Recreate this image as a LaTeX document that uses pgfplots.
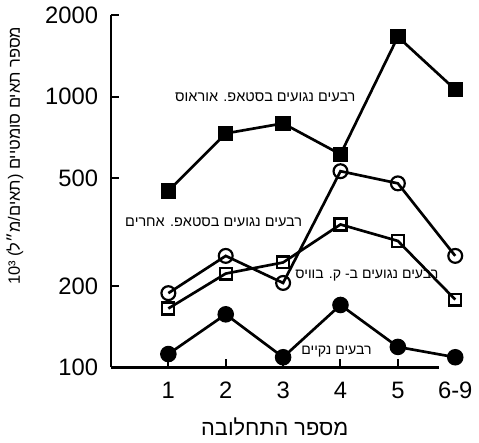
\documentclass[border=0pt]{standalone}
\usepackage{pgfplots}
\pgfplotsset{compat=1.18}
\usepackage{fontspec}
\setmainfont{Liberation Sans}
\newfontfamily\heb[Script=Hebrew]{Liberation Sans}
\TeXXeTstate=1
\begin{document}
\begin{tikzpicture}
\begin{axis}[
  scale only axis,
  width=165.5pt, height=178pt,
  ymode=log,
  xmin=0, xmax=5.71,
  ymin=100, ymax=2000,
  clip=false,
  axis lines=left,
  axis line style={line width=1.4pt, -},
  xtick={1,2,3,4,5},
  xticklabels={1,2,3,4,5},
  ytick={100,200,500,1000,2000},
  yticklabels={100,200,500,1000,2000},
  minor ytick={},
  tick align=inside,
  major tick length=4pt,
  tick style={line width=1pt, black},
  ticklabel style={font=\fontsize{12}{14}\selectfont},
  yticklabel style={xshift=-3pt},
  xticklabel style={yshift=-4pt},
  xlabel={\heb\fontsize{11}{13}\selectfont\beginR מספר התחלובה\endR},
  xlabel style={at={(axis description cs:0.50,0)}, anchor=north, yshift=-22pt},
  ylabel={\heb\fontsize{8.3}{10}\selectfont\beginR מספר תאים סומטיים (תאים/מ״ל) \beginL10³\endL\endR},
  ylabel style={at={(axis description cs:-0.293,0.60)}, anchor=center, rotate=0},
  every axis plot/.append style={line width=1.35pt, black},
]
% Staph. aureus
\addplot[mark=square*, mark size=3.2pt, mark options={fill=black}] coordinates {
 (1,448) (2,731) (3,796) (4,612) (5,1662) (6,1061)};
% other staph
\addplot[mark=o, mark size=3.5pt, mark options={fill=white, line width=1.1pt}] coordinates {
 (1,188) (2,258) (3,205) (4,530) (5,478) (6,258)};
% C. bovis
\addplot[mark=square, mark size=3pt, mark options={fill=white, line width=1.1pt}] coordinates {
 (1,165) (2,222) (3,244) (4,337) (5,293) (6,178)};
% clean
\addplot[mark=*, mark size=3.5pt, mark options={fill=black}] coordinates {
 (1,112) (2,157) (3,109) (4,170) (5,119) (6,109)};

\node[font=\heb\fontsize{7.3}{9}\selectfont] at (axis cs:2.69,991) {\beginR רבעים נגועים בסטאפ. אוראוס\endR};
\node[font=\heb\fontsize{7.3}{9}\selectfont] at (axis cs:1.79,344) {\beginR רבעים נגועים בסטאפ. אחרים\endR};
\node[font=\heb\fontsize{7.1}{9}\selectfont] at (axis cs:4.46,219) {\beginR רבעים נגועים ב- ק. בוויס\endR};
\node[font=\heb\fontsize{7.1}{9}\selectfont] at (axis cs:3.93,114) {\beginR רבעים נקיים\endR};
\node[font=\fontsize{12}{14}\selectfont, anchor=north, yshift=-4pt, inner sep=3.33pt] at (axis cs:6,100) {6-9};
\end{axis}
\end{tikzpicture}
\end{document}
